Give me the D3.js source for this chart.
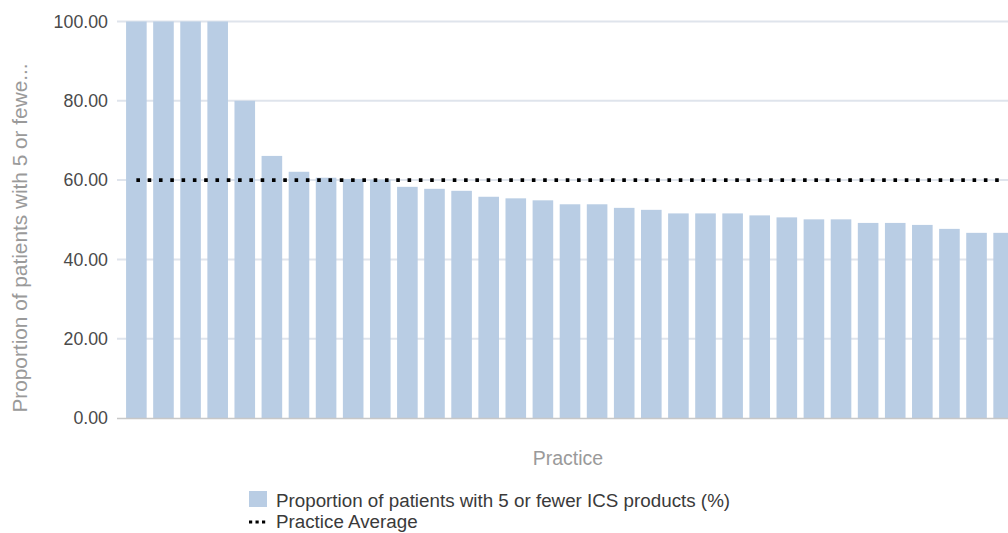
<!DOCTYPE html>
<html>
<head>
<meta charset="utf-8">
<script src="https://cdn.jsdelivr.net/npm/d3@7"></script>
<style>
  html, body { margin: 0; padding: 0; background: #fff; }
  svg { display: block; font-family: "Liberation Sans", Arial, sans-serif; }
</style>
</head>
<body>
<svg id="chart" width="1008" height="533"></svg>
<script>
// ---- data ----
const practices = d3.range(1, 34).map(i => "P" + i);
const proportions = [100, 100, 100, 100, 80, 66.1, 62.1, 60.6, 60.3, 60.1,
  58.3, 57.8, 57.3, 55.8, 55.4, 54.9, 53.9, 53.9, 53.0, 52.5,
  51.6, 51.6, 51.6, 51.1, 50.6, 50.1, 50.1, 49.2, 49.2, 48.7,
  47.7, 46.7, 46.7];
const practiceAverage = 60.0;
const yTicks = [0, 20, 40, 60, 80, 100];
const seriesName = "Proportion of patients with 5 or fewer ICS products (%)";
const averageName = "Practice Average";
const yTitle = "Proportion of patients with 5 or fewe...";
const xTitle = "Practice";

// ---- layout ----
const svg = d3.select("#chart");
const plotLeft = 122, plotRight = 1018, plotTop = 21.5, plotBottom = 418;

const x = d3.scaleBand().domain(practices).range([plotLeft, plotRight])
  .paddingInner(0.24).paddingOuter(0.15);
const y = d3.scaleLinear().domain([0, 100]).range([plotBottom, plotTop]);

// gridlines
const grid = svg.append("g");
grid.selectAll("line").data(yTicks.filter(t => t > 0)).join("line")
  .attr("x1", 117).attr("x2", 1008)
  .attr("y1", d => y(d)).attr("y2", d => y(d))
  .attr("stroke", "#dfe4ec").attr("stroke-width", 2);

// y axis labels
const yAxis = d3.axisLeft(y).tickValues(yTicks).tickFormat(d3.format(".2f"))
  .tickSize(0).tickPadding(0);
const yg = svg.append("g").attr("transform", "translate(108,0)").call(yAxis);
yg.select(".domain").remove();
yg.selectAll("text").attr("font-size", 17.8).attr("fill", "#4a4a4a")
  .attr("font-family", "Liberation Sans, Arial, sans-serif");

// bars
svg.append("g").selectAll("rect").data(proportions).join("rect")
  .attr("x", (d, i) => x(practices[i]))
  .attr("width", x.bandwidth())
  .attr("y", d => y(d))
  .attr("height", d => y(0) - y(d))
  .attr("fill", "#b9cde4");

// baseline
svg.append("line").attr("x1", 117).attr("x2", 1008)
  .attr("y1", y(0) + 0.5).attr("y2", y(0) + 0.5)
  .attr("stroke", "#c8c8c8").attr("stroke-width", 1.5);

// practice average
const avgLine = d3.line().x(d => x(d) + x.bandwidth() / 2).y(() => y(practiceAverage));
svg.append("path")
  .attr("d", avgLine([practices[0], practices[practices.length - 1]]))
  .attr("stroke", "#000").attr("stroke-width", 3.6)
  .attr("stroke-dasharray", "3.6 7.7").attr("fill", "none");

// axis titles
svg.append("text").text(yTitle)
  .attr("transform", "translate(27,238) rotate(-90)")
  .attr("text-anchor", "middle").attr("font-size", 20.8).attr("fill", "#9a9a9a");
svg.append("text").text(xTitle)
  .attr("x", 568).attr("y", 465).attr("text-anchor", "middle")
  .attr("font-size", 19.5).attr("fill", "#9a9a9a");

// legend
svg.append("rect").attr("x", 249).attr("y", 491).attr("width", 18).attr("height", 16)
  .attr("fill", "#b9cde4");
svg.append("text").text(seriesName).attr("x", 276).attr("y", 507)
  .attr("font-size", 18.8).attr("fill", "#3a3a3a");
svg.append("line").attr("x1", 249).attr("x2", 268).attr("y1", 522).attr("y2", 522)
  .attr("stroke", "#000").attr("stroke-width", 3.2).attr("stroke-dasharray", "3.2 3.3");
svg.append("text").text(averageName).attr("x", 276).attr("y", 528)
  .attr("font-size", 18.8).attr("fill", "#3a3a3a");
</script>
</body>
</html>
